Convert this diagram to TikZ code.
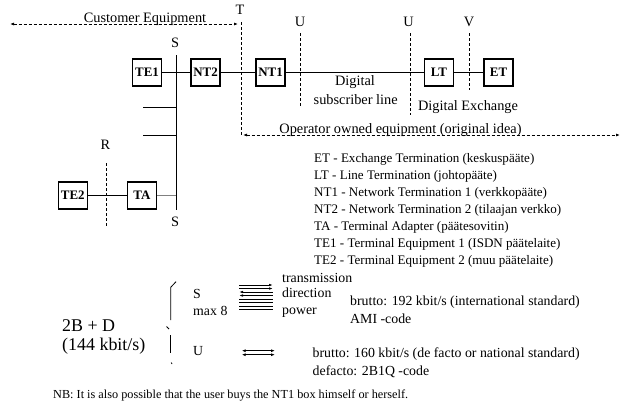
\documentclass[tikz,border=0pt]{standalone}
\usepackage{fontspec}
\setmainfont{Liberation Serif}
\usetikzlibrary{arrows.meta}
\begin{document}
\begin{tikzpicture}[x=1bp,y=-1bp,
  box/.style={draw, line width=1.1bp, minimum width=29bp, minimum height=27bp, inner sep=1bp, font=\fontsize{13}{15}\selectfont\bfseries},
  lbl/.style={inner sep=0, font=\fontsize{14.4}{16}\selectfont},
  leg/.style={inner sep=0, anchor=base west, font=\fontsize{13.1}{15}\selectfont},
  txt/.style={inner sep=0, anchor=base west, font=\fontsize{13.9}{16}\selectfont},
  dsh/.style={dash pattern=on 3bp off 2bp, line width=0.8bp},
  wire/.style={line width=0.8bp},
  tipl/.style={{Latex[length=4bp,width=2.6bp]}-},
  tipr/.style={-{Latex[length=4bp,width=2.6bp]}},
  tipb/.style={{Latex[length=4bp,width=3bp]}-{Latex[length=4bp,width=3bp]}},
]
\useasboundingbox (0,0) rectangle (644,405);

% boxes
\node[box] (te1) at (147,72.5) {TE1};
\node[box] (nt2) at (205.5,72.5) {NT2};
\node[box] (nt1) at (270.5,72.5) {NT1};
\node[box] (lt) at (439,72.5) {LT};
\node[box] (et) at (498.5,72.5) {ET};
\node[box] (te2) at (72.8,195.5) {TE2};
\node[box] (ta) at (142,195.5) {TA};

\draw[wire] (te1) -- (nt2);
\draw[wire] (nt2) -- (nt1);
\draw[wire] (nt1) -- (lt);
\draw[wire] (lt) -- (et);
\draw[wire] (te2) -- (ta);

% S bus
\coordinate (stop) at (176,55);
\coordinate (sbot) at (176,210);
\draw[wire] (stop) -- (sbot);
\coordinate (br1) at (143,107.3);
\coordinate (br2) at (143,135);
\draw[wire] (br1) -- (br1 -| stop);
\draw[wire] (br2) -- (br2 -| stop);
\draw[wire, gray] (ta.east) -- (ta.east -| stop);

% reference point lines
\coordinate (t1) at (241,22); \coordinate (t2) at (241,137);
\coordinate (u1a) at (300,33); \coordinate (u1b) at (300,108);
\coordinate (u2a) at (410,33); \coordinate (u2b) at (410,115);
\coordinate (va) at (469.3,33); \coordinate (vb) at (469.3,90);
\coordinate (ra) at (106.5,163); \coordinate (rb) at (106.5,228);
\draw[dsh] (t1) -- (t2);
\draw[dsh] (u1a) -- (u1b);
\draw[dsh] (u2a) -- (u2b);
\draw[dsh] (va) -- (vb);
\draw[dsh] (ra) -- (rb);

\node[lbl] (lT) at (240,10) {T};
\node[lbl] (lU1) at (300,21.7) {U};
\node[lbl] (lU2) at (408.5,21.7) {U};
\node[lbl] (lV) at (469,21.7) {V};
\node[lbl] (lS1) at (175,43) {S};
\node[lbl] (lR) at (105.5,145) {R};
\node[lbl] (lS2) at (175,221.7) {S};

% customer / operator
\coordinate (ca) at (10,24); \coordinate (cb) at (238,24);
\draw[dsh, tipb] (ca) -- (cb);
\node[lbl, anchor=base] (cust) at (145,22) {Customer Equipment};
\coordinate (oa) at (243,135); \coordinate (ob) at (620,135);
\draw[dsh, tipb] (oa) -- (ob);
\node[lbl, anchor=base] (oper) at (400.5,133) {Operator owned equipment (original idea)};

\node[lbl] (dig) at (355,81.7) {Digital};
\node[lbl] (dsl) at (355.7,99.3) {subscriber line};
\node[lbl] (dex) at (468,107) {Digital Exchange};

% legend
\node[leg] (l1) at (314,162.5) {ET - Exchange Termination (keskuspääte)};
\node[leg] (l2) at (314,179.6) {LT - Line Termination (johtopääte)};
\node[leg] (l3) at (314,196.6) {NT1 - Network Termination 1 (verkkopääte)};
\node[leg] (l4) at (314,213.7) {NT2 - Network Termination 2 (tilaajan verkko)};
\node[leg] (l5) at (314,230.8) {TA - Terminal Adapter (päätesovitin)};
\node[leg] (l6) at (314,247.8) {TE1 - Terminal Equipment 1 (ISDN päätelaite)};
\node[leg] (l7) at (314,264.9) {TE2 - Terminal Equipment 2 (muu päätelaite)};

% bottom
\node[inner sep=0, anchor=base west, font=\fontsize{18}{20}\selectfont] (bd) at (62,331) {2B + D};
\node[inner sep=0, anchor=base west, font=\fontsize{18}{20}\selectfont] (rate) at (62,350) {(144 kbit/s)};

\draw[wire] (176,281.7) -- (170.7,287.3) -- (170.7,320);
\draw[wire] (166.5,326.5) -- (169,329);
\draw[wire] (170.7,335) -- (170.7,353);
\draw[wire] (171.3,362.5) -- (172,364);

\node[txt] (bS) at (193,298) {S};
\node[txt] (bmax) at (193,315) {max 8};
\node[txt] (bU) at (193,355) {U};

\foreach \yy/\st in {285/tipr,288.5/tipr,292/tipl,295.5/tipl,299/,302.5/,306/,309.5/}{
  \draw[wire, \st] (239,\yy) -- (273,\yy);
}
\node[txt] (tr) at (282,282.7) {transmission};
\node[txt] (di) at (282,297.3) {direction};
\node[txt] (po) at (282,314) {power};

\coordinate (ua1) at (241.7,350.7); \coordinate (ub1) at (275,350.7);
\coordinate (ua2) at (241.7,354.7); \coordinate (ub2) at (275,354.7);
\draw[wire, tipb] (ua1) -- (ub1);
\draw[wire, tipb] (ua2) -- (ub2);

\node[txt] (b192) at (350,305.7) {brutto: 192 kbit/s (international standard)};
\node[txt] (ami) at (350,323.3) {AMI -code};
\node[txt] (b160) at (312.5,357.3) {brutto: 160 kbit/s (de facto or national standard)};
\node[txt] (def) at (312.5,375) {defacto: 2B1Q -code};

\node[inner sep=0, anchor=base west, font=\fontsize{12.3}{14}\selectfont] (nb) at (53,398) {NB: It is also possible that the user buys the NT1 box himself or herself.};
\end{tikzpicture}
\end{document}
